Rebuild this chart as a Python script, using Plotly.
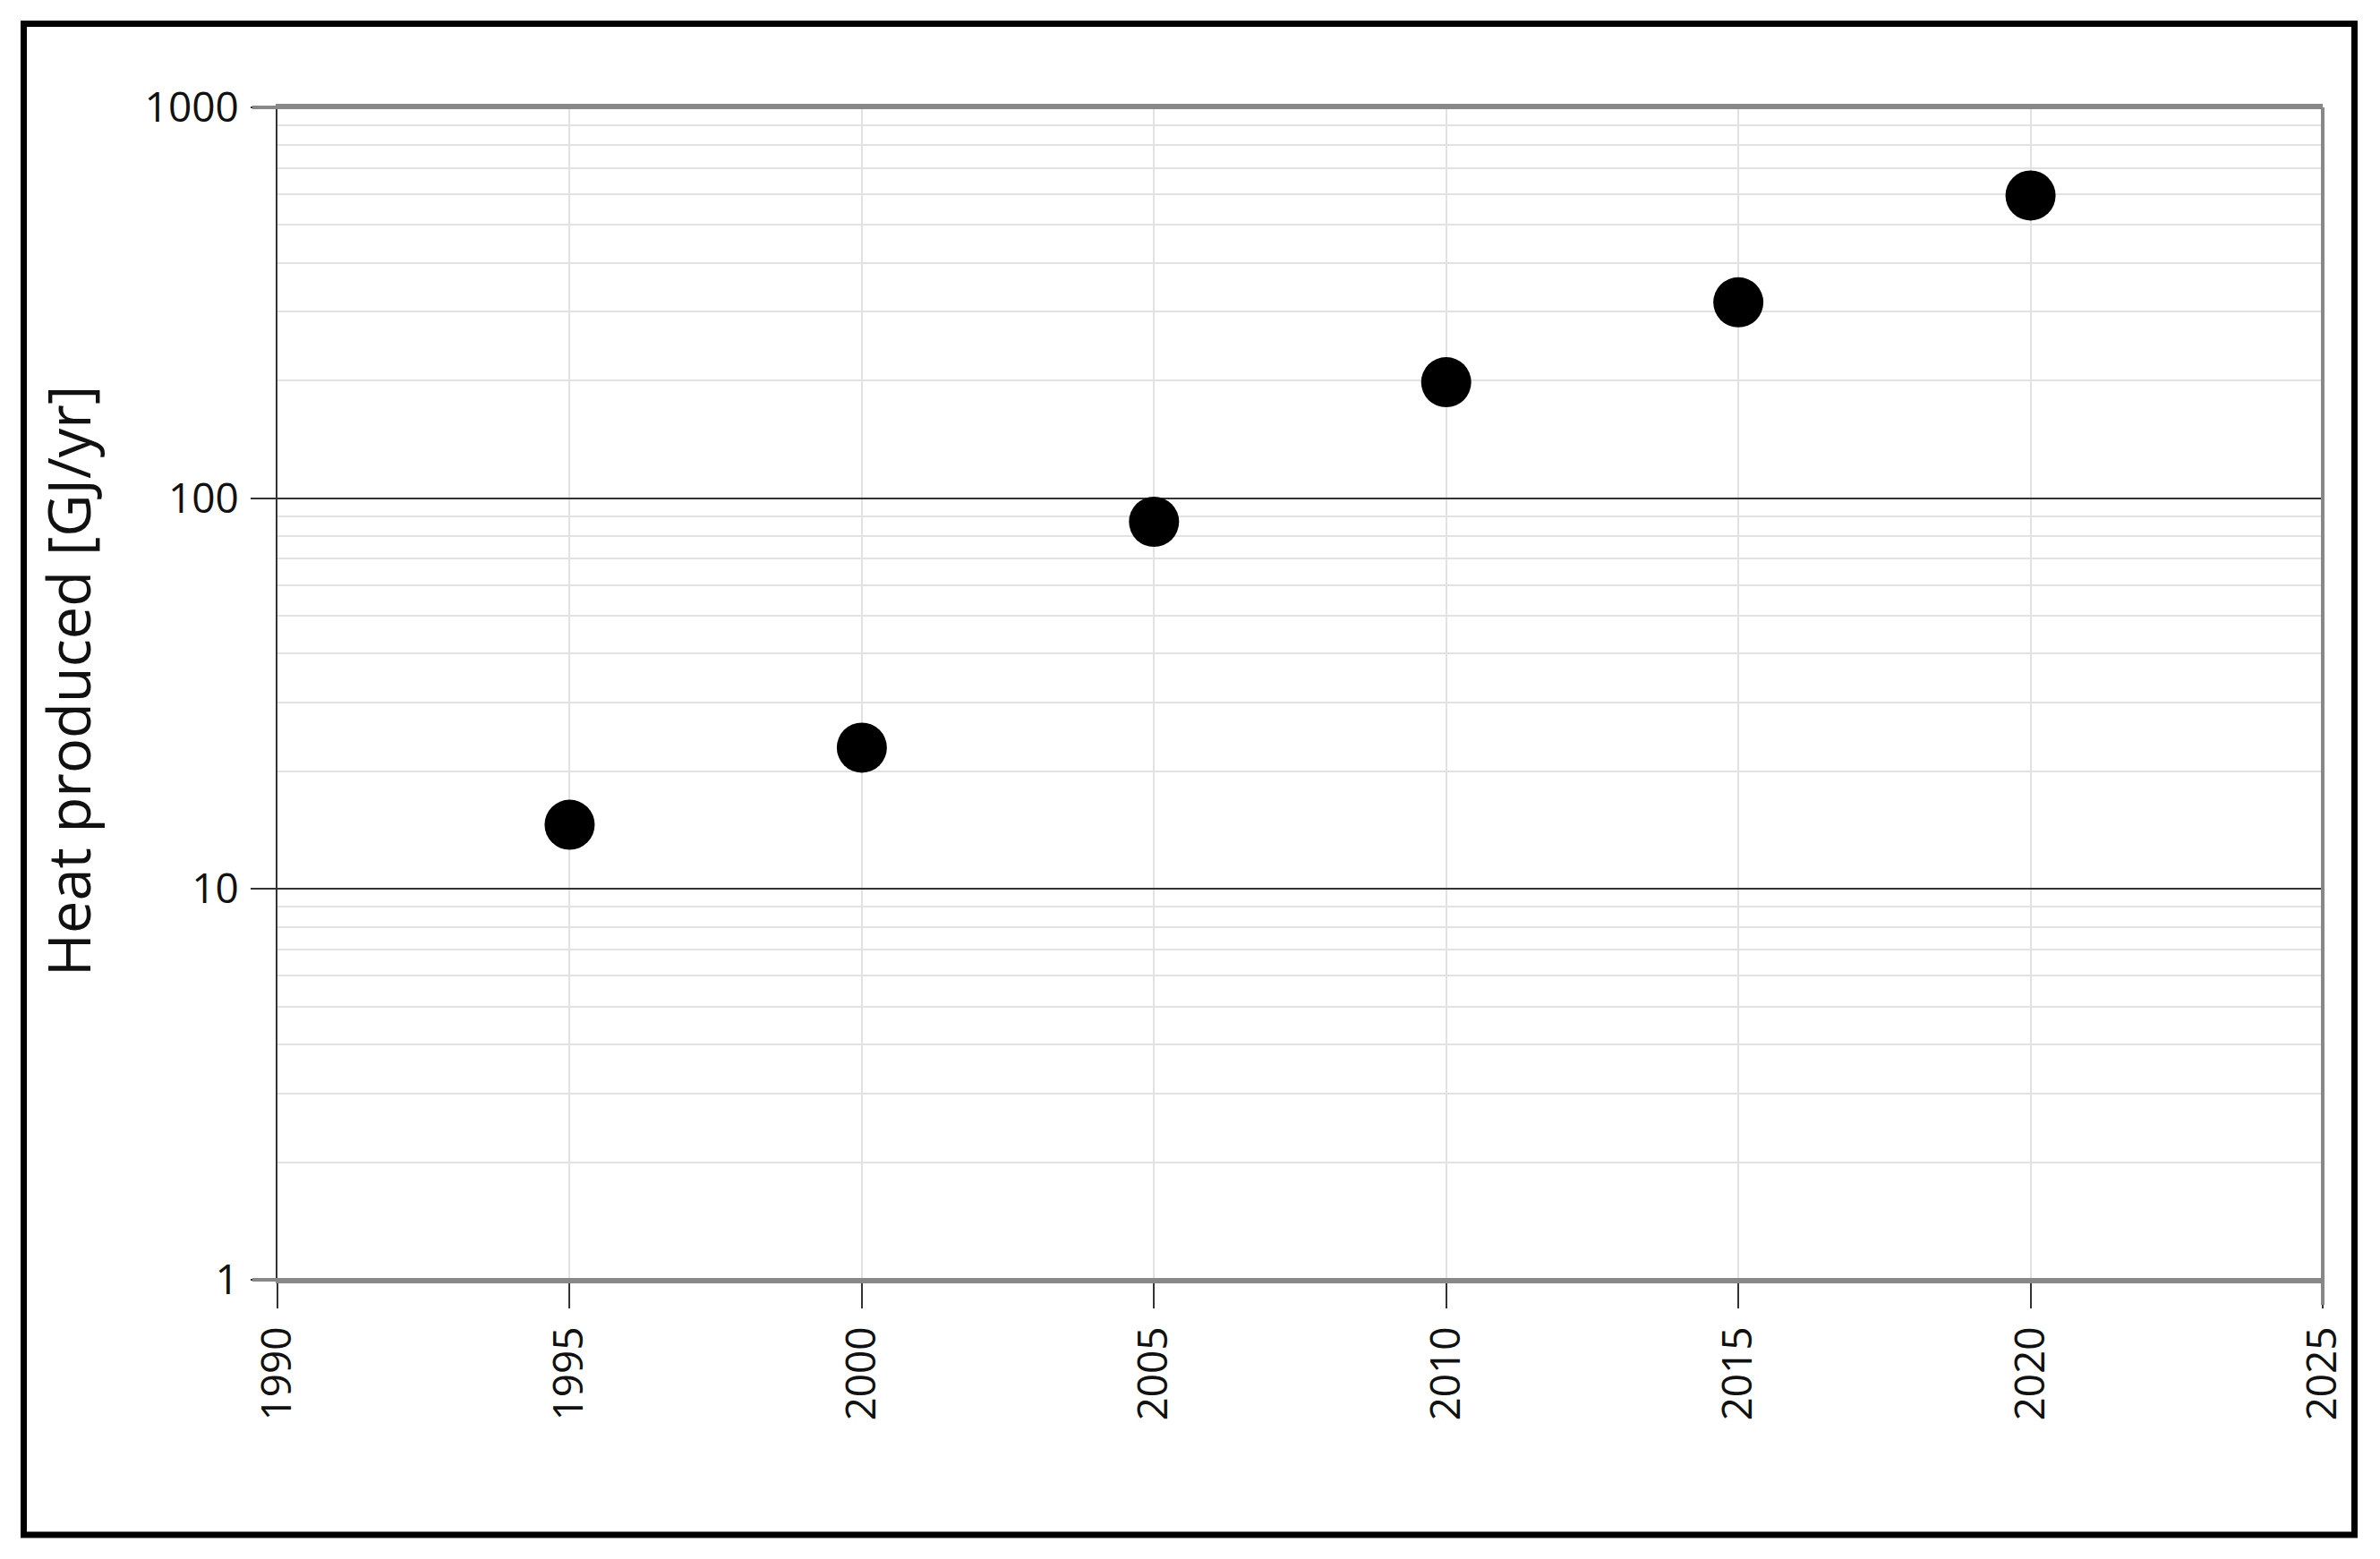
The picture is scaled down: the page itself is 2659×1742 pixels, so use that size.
import plotly.graph_objects as go

# Data
years = [1995, 2000, 2005, 2010, 2015, 2020]
heat_gj_per_yr = [14.6, 23.0, 87.0, 198.0, 317.0, 595.0]

x_tick_vals = [1990, 1995, 2000, 2005, 2010, 2015, 2020, 2025]
x_tick_text = ["1990", "1995", "2000", "2005", "2010", "2015", "2020", "2025"]
y_tick_vals = [1, 10, 100, 1000]
y_tick_text = ["1", "10", "100", "1000"]
y_title = "Heat produced [GJ/yr]"

OFF = 8  # page body margin
W, H = 2659 - 2 * OFF, 1742 - 2 * OFF
# target plot area in page pixels: x 310..2595, y 120..1430
L, T = 310 - OFF, 120 - OFF
R = W - (2595 - OFF)
B = H - (1430 - OFF)
PW, PH = W - L - R, H - T - B

minor_vals = [m * 10 ** k for k in range(0, 3) for m in range(2, 10)]

FONT = "Open Sans"
GRID_LIGHT = "#e2e2e2"
DARK = "#333333"
GRAY = "#888888"

fig = go.Figure()
fig.add_trace(go.Scatter(
    x=years, y=heat_gj_per_yr, mode="markers",
    marker=dict(color="black", size=56, line=dict(width=0)),
    showlegend=False, hoverinfo="x+y",
))

fig.update_layout(
    width=W, height=H,
    margin=dict(l=L, r=R, t=T, b=B, pad=0),
    paper_bgcolor="white", plot_bgcolor="white",
    font=dict(family=FONT, size=46, color="#111111"),
    showlegend=False,
)

fig.update_xaxes(
    range=[1990, 2025], tickmode="array", tickvals=x_tick_vals, ticktext=x_tick_text,
    tickangle=-90, ticks="outside", ticklen=28, tickwidth=2, tickcolor=DARK,
    showgrid=True, gridcolor=GRID_LIGHT, gridwidth=2,
    showline=True, linecolor=GRAY, linewidth=4, mirror=True,
    zeroline=False, ticklabelstandoff=2,
    tickfont=dict(family=FONT, size=46, color="#111111"),
)
fig.update_yaxes(
    type="log", range=[0, 3], tickmode="array", tickvals=y_tick_vals, ticktext=y_tick_text,
    ticks="outside", ticklen=28, tickwidth=2, tickcolor=DARK,
    showgrid=True, gridcolor=DARK, gridwidth=2,
    minor=dict(tickmode="array", tickvals=minor_vals, showgrid=True,
               gridcolor=GRID_LIGHT, gridwidth=2, ticks=""),
    showline=True, linecolor=DARK, linewidth=2, mirror=False,
    zeroline=False, ticklabelstandoff=4,
    tickfont=dict(family=FONT, size=46, color="#111111"),
)

def px_x(px):
    # px in page coordinates
    return (px - OFF - L) / PW

def px_y(py):
    return (H - B - (py - OFF)) / PH

shapes = [
    dict(type="line", xref="paper", yref="paper", x0=1, x1=1, y0=px_y(1458), y1=1,
         line=dict(color=GRAY, width=4), layer="above"),
    dict(type="line", xref="paper", yref="paper", x0=px_x(282), x1=1, y0=1, y1=1,
         line=dict(color=GRAY, width=4), layer="above"),
    dict(type="line", xref="paper", yref="paper", x0=px_x(282), x1=1, y0=0, y1=0,
         line=dict(color=GRAY, width=4), layer="above"),
    dict(type="rect", xref="paper", yref="paper",
         x0=px_x(26.5), x1=px_x(2630.5), y0=px_y(1715), y1=px_y(26.5),
         line=dict(color="black", width=7), fillcolor="rgba(0,0,0,0)", layer="above"),
]
fig.update_layout(shapes=shapes)

fig.add_annotation(
    text=y_title, xref="paper", yref="paper", x=px_x(76), y=px_y(761),
    xanchor="center", yanchor="middle", textangle=-90, showarrow=False,
    font=dict(family=FONT, size=65, color="#111111"),
)

fig.write_html("out.html")
